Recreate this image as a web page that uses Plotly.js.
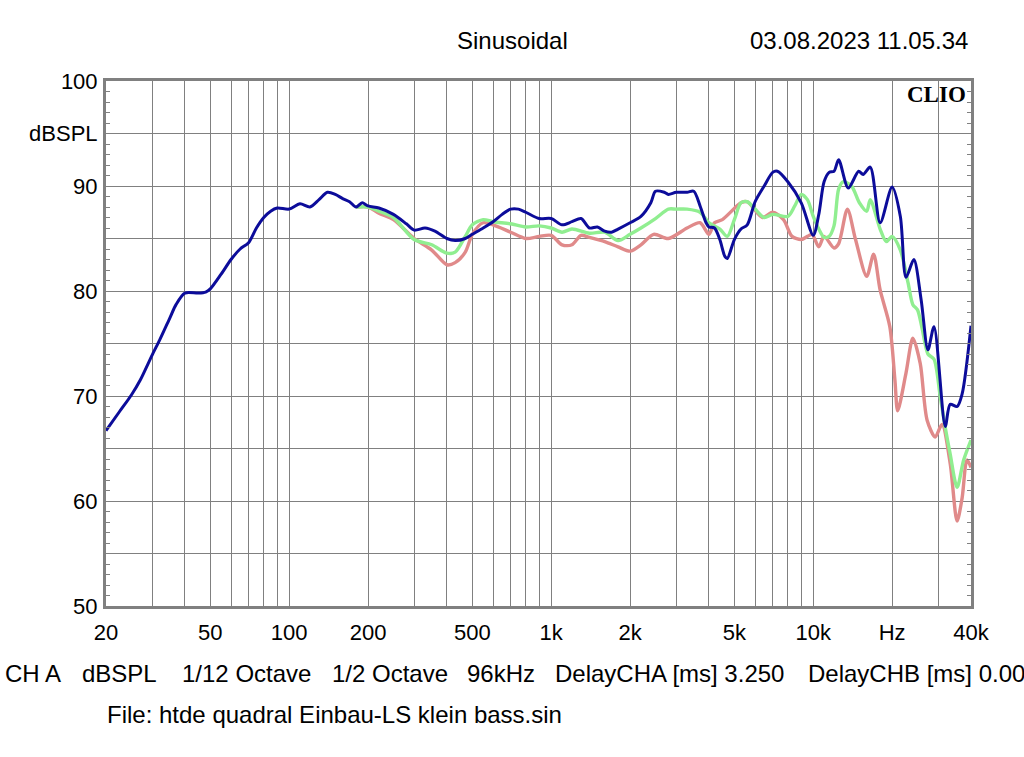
<!DOCTYPE html>
<html>
<head>
<meta charset="utf-8">
<script src="https://cdn.plot.ly/plotly-3.0.1.min.js"></script>
<style>
html,body{margin:0;padding:0;background:#fff;overflow:hidden;}
#chart{width:1024px;height:757px;}
</style>
</head>
<body>
<div id="chart"></div>
<script>
// Blue curve (CH A, reference measurement)
const blueFreq = [20,22.5,25,27,30,32,35,37,40,45,48,50,55,60,65,70,75,80,85,90,100,110,120,130,140,150,160,170,180,190,200,220,250,280,300,330,360,400,430,470,500,550,600,650,700,750,800,900,1000,1100,1200,1300,1400,1500,1600,1700,1800,2000,2200,2400,2500,2700,2800,3000,3300,3500,3700,3900,4000,4200,4400,4600,4700,5000,5300,5600,6000,6500,7000,7300,8000,9000,10000,10500,11000,11500,12000,12500,13600,14900,15500,16500,18000,20000,21500,22600,24200,25800,27400,28900,31900,33300,35400,37000,40000];
const blueDb = [66.7,68.5,70.1,71.5,73.9,75.3,77.4,78.7,79.8,79.8,79.9,80.2,81.6,83.0,84.0,84.6,86.0,87.0,87.6,87.9,87.8,88.3,88.0,88.7,89.4,89.2,88.8,88.5,88.0,88.4,88.1,87.9,87.3,86.4,85.8,86.0,85.7,85.0,84.8,85.0,85.4,86.0,86.6,87.3,87.8,87.8,87.5,86.9,86.9,86.3,86.6,86.9,86.0,86.1,85.7,85.6,85.9,86.5,87.1,88.4,89.5,89.4,89.2,89.4,89.4,89.5,88.1,86.5,86.1,86.0,84.9,83.3,83.1,84.9,85.9,86.3,88.5,90.0,91.3,91.4,90.4,88.4,85.3,87.3,90.4,91.3,91.4,92.5,89.8,91.4,91.1,91.8,86.5,89.9,87.1,81.3,83.0,79.2,74.4,76.6,67.1,69.2,69.0,70.2,76.7];

// Green curve
const greenFreq = [180,200,220,250,300,350,400,430,470,500,550,600,700,800,900,1000,1100,1200,1400,1600,1800,2000,2200,2500,2800,3000,3300,3700,4000,4400,4700,5000,5300,5600,6000,6500,7000,8000,8500,9000,9500,10000,10500,11000,11500,12000,12500,13000,14000,15000,16000,16500,18000,19000,20000,21500,23000,24000,25000,26000,27400,28900,30500,31900,33300,35400,37500,40000];
const greenDb = [88.0,88.0,87.6,87.0,84.9,84.4,83.6,83.7,85.2,86.3,86.8,86.6,86.4,86.1,86.2,86.0,85.6,85.9,85.5,85.6,84.8,85.4,86.0,86.9,87.8,87.8,87.8,87.5,86.5,85.9,85.2,86.8,88.4,88.5,87.8,87.0,87.3,87.1,88.1,89.2,88.7,87.1,85.9,85.1,85.2,86.2,89.7,90.4,90.0,88.4,87.6,88.7,85.9,84.7,85.2,83.9,80.8,78.7,78.2,76.5,74.0,73.5,70.0,67.0,64.5,61.3,63.9,65.8];

// Red curve
const redFreq = [180,200,220,250,300,350,400,430,470,500,550,600,700,800,900,1000,1100,1200,1300,1400,1600,1800,2000,2200,2460,2800,3300,3700,4000,4200,4500,5300,5600,6400,7000,7700,8300,9000,9500,9900,10500,11000,12000,12500,13500,14500,16000,17000,18000,19600,20500,21000,22600,24000,25600,27200,29200,31000,33300,35400,37000,38600,40000];
const redDb = [88.0,88.0,87.4,86.8,85.0,83.9,82.5,82.7,83.7,85.4,86.5,86.3,85.6,85.0,85.2,85.3,84.4,84.4,85.3,85.1,84.7,84.2,83.8,84.4,85.4,85.0,86.0,86.5,85.4,86.5,86.8,88.4,88.5,87.0,87.5,86.8,85.2,84.9,85.2,85.4,84.2,85.2,84.1,84.5,87.8,84.9,81.4,83.5,80.1,76.6,71.5,68.6,72.2,75.5,73.1,67.7,66.1,67.3,63.6,58.1,60.3,63.9,63.2];

// Axis ticks
const xGridVals = [20,30,40,50,60,70,80,90,100,200,300,400,500,600,700,800,900,1000,2000,3000,4000,5000,6000,7000,8000,9000,10000,20000,30000,40000];
const xLabelMap = {20:"20",50:"50",100:"100",200:"200",500:"500",1000:"1k",2000:"2k",5000:"5k",10000:"10k",20000:"Hz",40000:"40k"};
const yGridVals = [50,55,60,65,70,75,80,85,90,95,100];
const yLabelMap = {50:"50",60:"60",70:"70",80:"80",90:"90",95:"dBSPL",100:"100"};

const xTickText = xGridVals.map(v => xLabelMap[v] || "");
const yTickText = yGridVals.map(v => yLabelMap[v] || "");

const FONT = "Liberation Sans, Arial, sans-serif";
const GRID = "#808080";

const traces = [
  {x: redFreq, y: redDb, type: "scatter", mode: "lines", line: {color: "#e08a8a", width: 3.4, shape: "spline", smoothing: 0.8}, hoverinfo: "skip"},
  {x: greenFreq, y: greenDb, type: "scatter", mode: "lines", line: {color: "#90ee90", width: 3.4, shape: "spline", smoothing: 0.8}, hoverinfo: "skip"},
  {x: blueFreq, y: blueDb, type: "scatter", mode: "lines", line: {color: "#0c0c9a", width: 3, shape: "spline", smoothing: 0.8}, hoverinfo: "skip"}
];

function px(x){ return (x - 106) / 865; }
function py(y){ return (606 - y) / 525; }

const bottomRow = [
  ["CH A", 3], ["dBSPL", 80], ["1/12 Octave", 180], ["1/2 Octave", 330],
  ["96kHz", 465], ["DelayCHA [ms] 3.250", 553], ["DelayCHB [ms] 0.00", 806]
];

const annotations = [
  {text: "Sinusoidal", x: px(512), y: py(40), xanchor: "center", yanchor: "middle"},
  {text: "03.08.2023 11.05.34", x: px(970), y: py(40), xanchor: "right", yanchor: "middle"},
  {text: "<b>CLIO</b>", x: px(968), y: py(94), xanchor: "right", yanchor: "middle",
   font: {family: "Liberation Serif, Times New Roman, serif", size: 23, color: "#000"}},
  {text: "File: htde quadral Einbau-LS klein bass.sin", x: px(105), y: py(714), xanchor: "left", yanchor: "middle"}
].concat(bottomRow.map(([t, x]) => ({text: t, x: px(x), y: py(673), xanchor: "left", yanchor: "middle"})))
 .map(a => Object.assign({xref: "paper", yref: "paper", showarrow: false,
   font: {family: FONT, size: 24, color: "#000"}}, a, a.font ? {font: a.font} : {}));

const layout = {
  width: 1024, height: 757,
  margin: {l: 106, r: 53, t: 81, b: 151, pad: 0},
  paper_bgcolor: "#fff", plot_bgcolor: "#fff",
  showlegend: false,
  font: {family: FONT, size: 22, color: "#000"},
  xaxis: {
    type: "log", range: [Math.log10(20), Math.log10(40000)],
    tickmode: "array", tickvals: xGridVals, ticktext: xTickText,
    showgrid: true, gridcolor: GRID, gridwidth: 1,
    showline: true, linecolor: GRID, linewidth: 3, mirror: true,
    ticks: "", zeroline: false, ticklabelstandoff: 5,
    tickfont: {family: FONT, size: 22, color: "#000"}
  },
  yaxis: {
    range: [50, 100],
    tickmode: "array", tickvals: yGridVals, ticktext: yTickText,
    showgrid: true, gridcolor: GRID, gridwidth: 1,
    showline: true, linecolor: GRID, linewidth: 3, mirror: "ticks",
    ticks: "inside", ticklen: 4, tickcolor: GRID, tickwidth: 1,
    minor: {tickmode: "linear", tick0: 50, dtick: 1, ticks: "inside", ticklen: 4, tickcolor: GRID, tickwidth: 1, showgrid: false},
    zeroline: false, ticklabelstandoff: 1,
    tickfont: {family: FONT, size: 22, color: "#000"}
  },
  annotations: annotations
};

Plotly.newPlot("chart", traces, layout, {staticPlot: true, displayModeBar: false});
</script>
</body>
</html>
